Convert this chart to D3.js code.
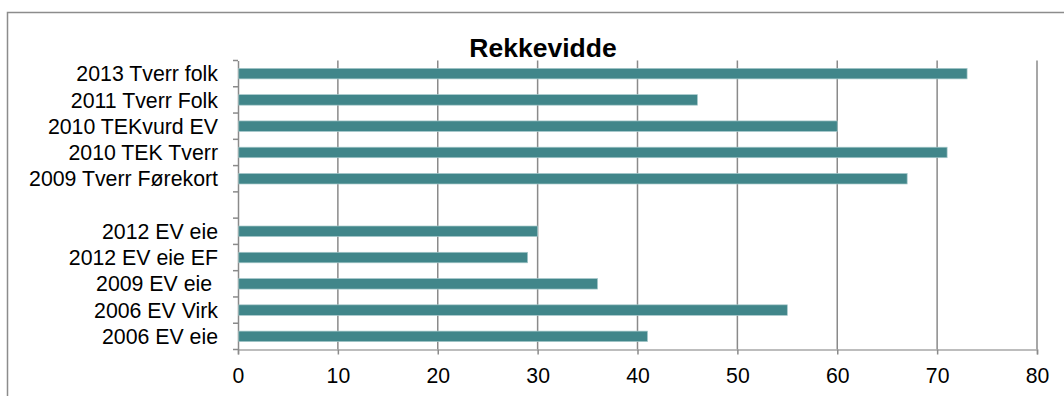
<!DOCTYPE html>
<html>
<head>
<meta charset="utf-8">
<script src="https://cdn.jsdelivr.net/npm/d3@7"></script>
<style>
  html, body { margin: 0; padding: 0; background: #fff; }
  svg { display: block; }
  text { font-family: "Liberation Sans", Arial, sans-serif; fill: #000; }
</style>
</head>
<body>
<svg id="chart" width="1064" height="396"></svg>
<script>
// ---- data ----
const categories = [
  "2013 Tverr folk",
  "2011 Tverr Folk",
  "2010 TEKvurd EV",
  "2010 TEK Tverr",
  "2009 Tverr Førekort",
  "",
  "2012 EV eie",
  "2012 EV eie EF",
  "2009 EV eie ",
  "2006 EV Virk",
  "2006 EV eie"
];
const values = [73, 46, 60, 71, 67, null, 30, 29, 36, 55, 41];
const xTicks = [0, 10, 20, 30, 40, 50, 60, 70, 80];
const title = "Rekkevidde";

// ---- layout ----
const svg = d3.select("#chart");
const pL = 238, pR = 1037, pT = 60.5, pB = 349.5;

const x = d3.scaleLinear().domain([0, 80]).range([pL, pR]);
const idx = categories.map((_, i) => i);
const y = d3.scaleBand().domain(idx).range([pT, pB])
  .paddingInner(0.6).paddingOuter(0.3);

// outer border (right & bottom edges fall outside the picture)
svg.append("path")
  .attr("d", `M7.5,${396 + 5} V12.5 H${1064 + 5}`)
  .attr("fill", "none").attr("stroke", "#8c8c8c").attr("stroke-width", 1.5);

// vertical gridlines
svg.append("g").selectAll("line")
  .data(xTicks.filter(t => t > 0))
  .join("line")
  .attr("x1", d => x(d)).attr("x2", d => x(d))
  .attr("y1", pT).attr("y2", pB)
  .attr("stroke", "#8a8a8a").attr("stroke-width", 1.5);

// bottom axis
const xAxis = d3.axisBottom(x).tickValues(xTicks).tickSize(5).tickPadding(13.6)
  .tickFormat(d3.format("d"));
const gx = svg.append("g").attr("transform", `translate(0,${pB})`).call(xAxis);
gx.select(".domain").attr("stroke", "#a8a8a8").attr("stroke-width", 1.5);
gx.selectAll(".tick line").attr("stroke", "#8a8a8a").attr("stroke-width", 1.5);
gx.selectAll(".tick text").attr("font-size", 21.2).attr("fill", "#000")
  .style("font-family", '"Liberation Sans", Arial, sans-serif');

// left axis: labels at band centres
const yAxis = d3.axisLeft(y).tickSize(0).tickPadding(20).tickFormat(i => categories[i]);
const gy = svg.append("g").attr("transform", `translate(${pL},0)`).call(yAxis);
gy.select(".domain").attr("stroke", "#8a8a8a").attr("stroke-width", 1.5);
gy.selectAll(".tick text").attr("font-size", 21.3).attr("dy", "0.36em").attr("fill", "#000")
  .style("white-space", "pre")
  .style("font-family", '"Liberation Sans", Arial, sans-serif');

// category boundary ticks
const step = y.step();
const bounds = idx.map(i => y(i) - step * y.paddingInner() / 2).concat([pB]);
bounds[0] = pT;
svg.append("g").selectAll("line")
  .data(bounds)
  .join("line")
  .attr("x1", pL - 5).attr("x2", pL)
  .attr("y1", d => d).attr("y2", d => d)
  .attr("stroke", "#8a8a8a").attr("stroke-width", 1.5);

// bars
svg.append("g").selectAll("rect")
  .data(idx.filter(i => values[i] != null))
  .join("rect")
  .attr("x", x(0) + 0.75)
  .attr("y", i => y(i))
  .attr("width", i => x(values[i]) - x(0) - 0.75)
  .attr("height", y.bandwidth())
  .attr("fill", "#41868a")
  .attr("stroke", "#a6c8ca").attr("stroke-width", 0.7);

// title
svg.append("text")
  .attr("x", 543).attr("y", 57)
  .attr("text-anchor", "middle")
  .attr("font-size", 26.5).attr("font-weight", "bold")
  .text(title);
</script>
</body>
</html>
